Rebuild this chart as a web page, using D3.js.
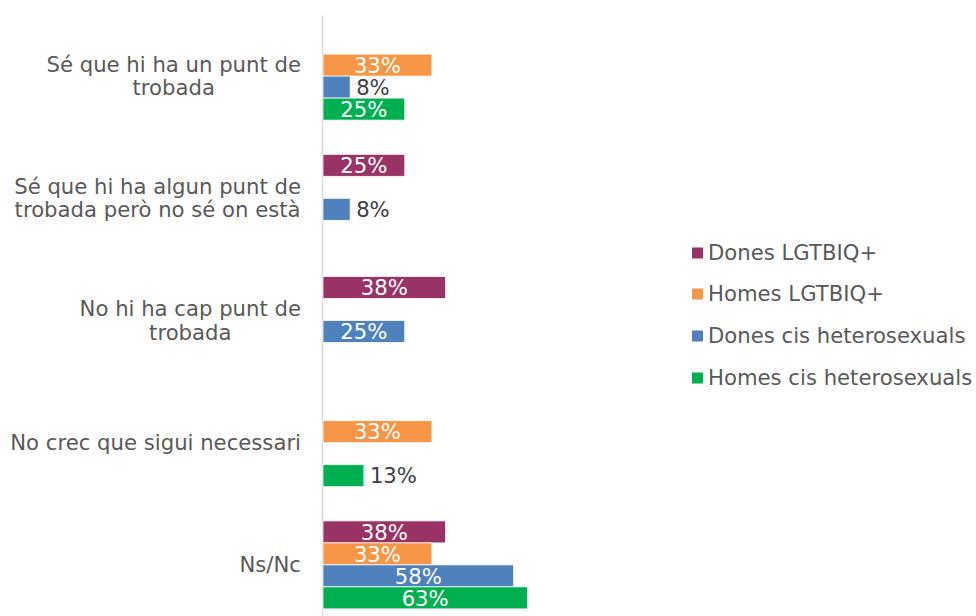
<!DOCTYPE html>
<html>
<head>
<meta charset="utf-8">
<script src="https://cdn.jsdelivr.net/npm/d3@7"></script>
<style>
  body { margin: 0; background: #fff; }
  svg { display: block; font-family: "DejaVu Sans", Verdana, sans-serif; }
</style>
</head>
<body>
<div id="chart"></div>
<script>
const categories = [
  ['Sé que hi ha un punt de', 'trobada'],
  ['Sé que hi ha algun punt de', 'trobada però no sé on està'],
  ['No hi ha cap punt de', 'trobada'],
  ['No crec que sigui necessari'],
  ['Ns/Nc']
];
const series = ['Dones LGTBIQ+', 'Homes LGTBIQ+', 'Dones cis heterosexuals', 'Homes cis heterosexuals'];
const colors = ['#993366', '#F79646', '#4F81BD', '#00B050'];

// percentages per series, one value per category (null = no bar)
const donesLGTBIQ = [null, 25, 37.5, null, 37.5];
const homesLGTBIQ = [33.3, null, null, 33.3, 33.3];
const donesCis = [8.3, 8.3, 25, null, 58.3];
const homesCis = [25, null, null, 12.5, 62.5];

const values = [donesLGTBIQ, homesLGTBIQ, donesCis, homesCis];

const width = 976, height = 616;
const textColor = '#595959';
const fontSize = '21.2px';

const svg = d3.select('#chart').append('svg')
  .attr('width', width)
  .attr('height', height);

const catKeys = categories.map((c, i) => i);

const x = d3.scaleLinear().domain([0, 100]).range([323, 650]);
const y = d3.scaleBand().domain(catKeys).range([15, 626]);
const ySub = d3.scaleBand().domain(series).range([-44, 44]);

// vertical axis line
const axis = svg.append('g')
  .attr('transform', 'translate(322,0)')
  .call(d3.axisLeft(y).tickSize(0).tickFormat(''));
axis.select('.domain').attr('stroke', '#d9d9d9').attr('stroke-width', 1.5);

// category labels, lines centred in a right-aligned block
categories.forEach((lines, i) => {
  const cy = y(i) + y.bandwidth() / 2;
  const lh = 23.5;
  const g = svg.append('g');
  const texts = lines.map((line, j) => g.append('text')
    .attr('y', cy + (j - (lines.length - 1) / 2) * lh)
    .attr('dy', '0.35em')
    .attr('fill', textColor)
    .style('font-size', fontSize)
    .attr('text-anchor', 'middle')
    .text(line));
  const w = d3.max(texts, t => t.node().getComputedTextLength());
  texts.forEach(t => t.attr('x', 301 - w / 2));
});

// bars
const rows = [];
series.forEach((s, si) => {
  values[si].forEach((v, ci) => {
    if (v != null) rows.push({ s, si, ci, v });
  });
});

const groups = svg.selectAll('.bar')
  .data(rows)
  .enter().append('g')
  .attr('class', 'bar')
  .attr('transform', d => `translate(0,${y(d.ci) + y.bandwidth() / 2 + ySub(d.s)})`);

groups.append('rect')
  .attr('x', x(0))
  .attr('y', 0)
  .attr('width', d => x(d.v) - x(0))
  .attr('height', ySub.bandwidth())
  .attr('fill', d => colors[d.si])
  .attr('stroke', '#fff')
  .attr('stroke-width', 0.75);

groups.append('text')
  .attr('y', ySub.bandwidth() / 2)
  .attr('dy', '0.36em')
  .style('font-size', fontSize)
  .each(function (d) {
    const t = d3.select(this).text(Math.round(d.v) + '%');
    const tw = this.getComputedTextLength();
    const bw = x(d.v) - x(0);
    if (tw + 4 < bw) {
      t.attr('x', x(0) + bw / 2).attr('text-anchor', 'middle').attr('fill', '#fff');
    } else {
      t.attr('x', x(d.v) + 6).attr('text-anchor', 'start').attr('fill', '#404040');
    }
  });

// legend
const legendY = [253, 294, 336, 378];
const legend = svg.selectAll('.legend')
  .data(series)
  .enter().append('g')
  .attr('class', 'legend')
  .attr('transform', (d, i) => `translate(692,${legendY[i]})`);

legend.append('rect')
  .attr('x', 0)
  .attr('y', -5.5)
  .attr('width', 11)
  .attr('height', 11)
  .attr('fill', (d, i) => colors[i]);

legend.append('text')
  .attr('x', 16)
  .attr('dy', '0.35em')
  .attr('fill', textColor)
  .style('font-size', fontSize)
  .text(d => d);
</script>
</body>
</html>
